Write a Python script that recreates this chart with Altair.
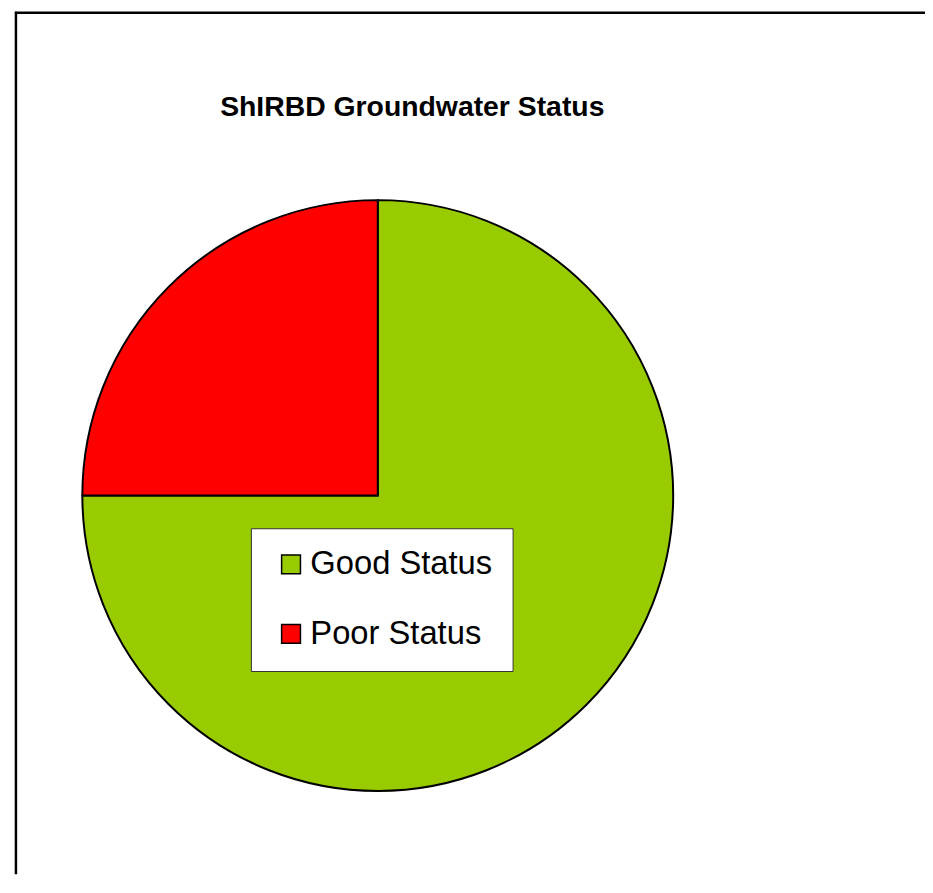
import altair as alt
import pandas as pd

categories = ["Good Status", "Poor Status"]
values = [75, 25]
slice_order = [0, 1]
colors = ["#99CC00", "#FF0000"]
title_text = "ShIRBD Groundwater Status"

df = pd.DataFrame({"status": categories, "value": values, "order": slice_order})
one = pd.DataFrame({"a": [0]})

W, H = 917, 870
CX, CY, R = 373, 488, 298

pie = alt.Chart(df).mark_arc(outerRadius=R, stroke="black", strokeWidth=2).encode(
    theta=alt.Theta("value:Q", stack=True),
    color=alt.Color(
        "status:N",
        scale=alt.Scale(domain=categories, range=colors),
        legend=alt.Legend(
            title=None,
            orient="none",
            legendX=245,
            legendY=521,
            fillColor="white",
            strokeColor="#333333",
            padding=20,
            symbolOffset=4,
            symbolType="square",
            symbolSize=361,
            symbolStrokeColor="black",
            symbolStrokeWidth=1.5,
            labelFont="Liberation Sans",
            labelFontSize=33,
            labelColor="black",
            labelOffset=3,
            labelLimit=400,
            labelExpr="datum.label + '\u00a0'",
            rowPadding=36,
        ),
    ),
    order=alt.Order("order:Q"),
    x=alt.value(CX),
    y=alt.value(CY),
)

left_border = alt.Chart(one).mark_rule(color="black", strokeWidth=2.5).encode(
    x=alt.value(8), y=alt.value(0), y2=alt.value(H)
)
top_border = alt.Chart(one).mark_rule(color="black", strokeWidth=2.5).encode(
    x=alt.value(7), x2=alt.value(W + 8), y=alt.value(1)
)

chart = alt.layer(left_border, top_border, pie).properties(
    width=W,
    height=H,
    autosize="none",
    padding={"left": 0, "top": 0, "right": 8, "bottom": 0},
    title=alt.TitleParams(
        text=title_text,
        font="Liberation Sans",
        fontSize=28.6,
        fontWeight="bold",
        color="black",
        anchor="start",
        baseline="alphabetic",
        offset=0,
        dx=214,
        dy=135,
    ),
).configure_view(strokeWidth=0)

chart.save("out.html", embed_options={"renderer": "svg", "actions": False})
